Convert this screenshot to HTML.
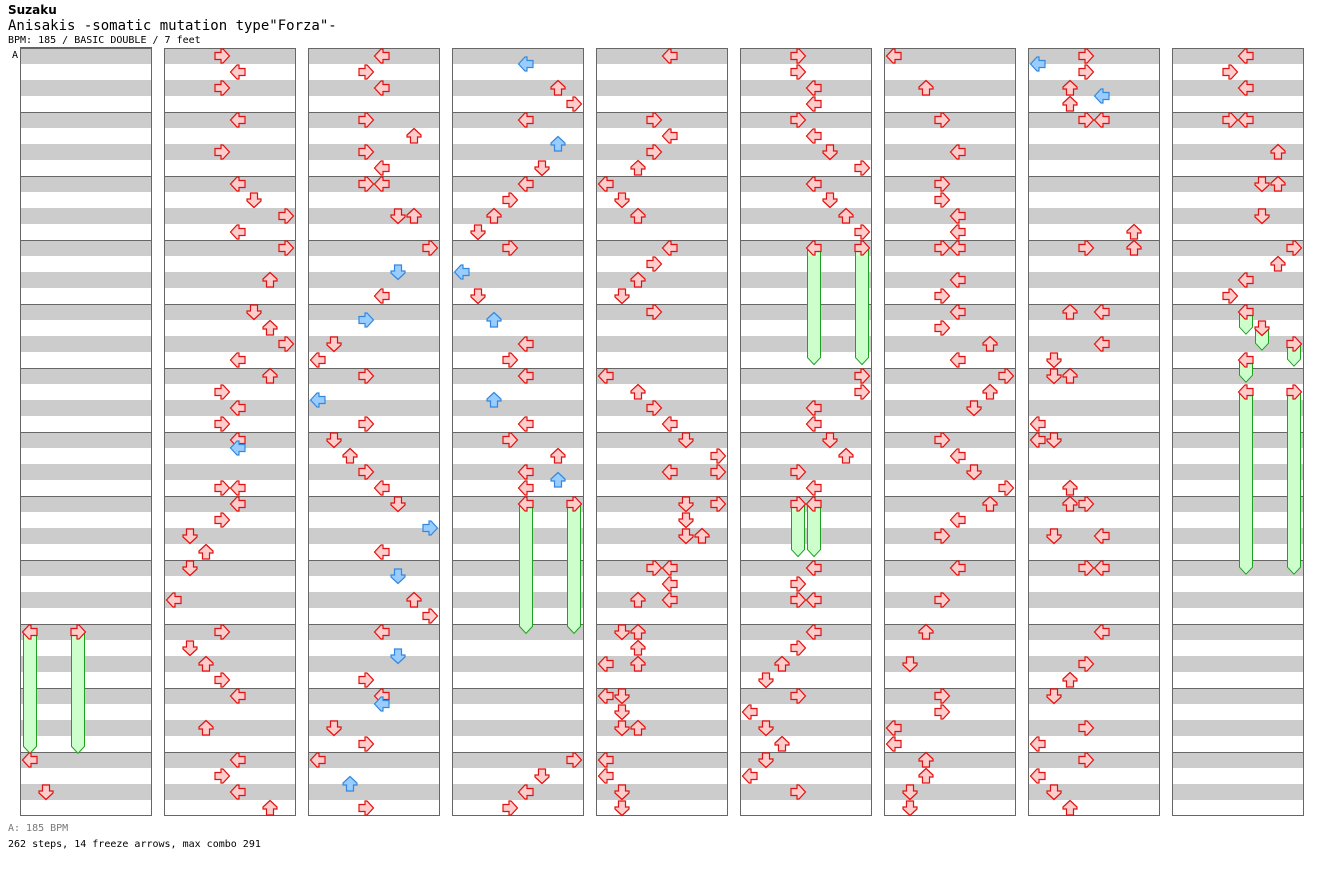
<!DOCTYPE html>
<html><head><meta charset="utf-8"><style>
body{margin:0;background:#fff;width:1328px;height:876px;overflow:hidden;font-family:"DejaVu Sans Mono","Liberation Mono",monospace;}
.t{position:absolute;left:8px;white-space:nowrap;color:#000}
</style></head><body>
<div class="t" style="top:3px;font:bold 12px 'DejaVu Sans','Liberation Sans',sans-serif">Suzaku</div>
<div class="t" style="top:18px;font-size:14px;font-family:'DejaVu Sans Mono',monospace">Anisakis -somatic mutation type"Forza"-</div>
<div class="t" style="top:35px;font-size:10px">BPM: 185 / BASIC DOUBLE / 7 feet</div>
<div class="t" style="top:823px;font-size:10px;color:#777">A: 185 BPM</div>
<div class="t" style="top:839px;font-size:10px">262 steps, 14 freeze arrows, max combo 291</div>
<svg id="s" width="1328" height="876" style="position:absolute;left:0;top:0"></svg>
<script>
var cols=[
"36:0,36:3,44:0,46:1",
"0:3,1:4,2:3,4:4,6:3,8:4,9:5,10:7,11:4,12:7,14:6,16:5,17:6,18:7,19:4,20:6,21:3,22:4,23:3,24:4,24.5:4,27:3,27:4,28:4,29:3,30:1,31:2,32:1,34:0,36:3,37:1,38:2,39:3,40:4,42:2,44:4,45:3,46:4,47:6",
"0:4,1:3,2:4,4:3,5:6,6:3,7:4,8:3,8:4,10:5,10:6,12:7,13.5:5,15:4,16.5:3,18:1,19:0,20:3,21.5:0,23:3,24:1,25:2,26:3,27:4,28:5,29.5:7,31:4,32.5:5,34:6,35:7,36:4,37.5:5,39:3,40:4,40.5:4,42:1,43:3,44:0,45.5:2,47:3",
"0.5:4,2:6,3:7,4:4,5.5:6,7:5,8:4,9:3,10:2,11:1,12:3,13.5:0,15:1,16.5:2,18:4,19:3,20:4,21.5:2,23:4,24:3,25:6,26:4,26.5:6,27:4,28:4,28:7,44:7,45:5,46:4,47:3",
"0:4,4:3,5:4,6:3,7:2,8:0,9:1,10:2,12:4,13:3,14:2,15:1,16:3,20:0,21:2,22:3,23:4,24:5,25:7,26:4,26:7,28:5,28:7,29:5,30:5,30:6,32:3,32:4,33:4,34:2,34:4,36:1,36:2,37:2,38:0,38:2,40:0,40:1,41:1,42:1,42:2,44:0,45:0,46:1,47:1",
"0:3,1:3,2:4,3:4,4:3,5:4,6:5,7:7,8:4,9:5,10:6,11:7,12:4,12:7,20:7,21:7,22:4,23:4,24:5,25:6,26:3,27:4,28:3,28:4,32:4,33:3,34:3,34:4,36:4,37:3,38:2,39:1,40:3,41:0,42:1,43:2,44:1,45:0,46:3",
"0:0,2:2,4:3,6:4,8:3,9:3,10:4,11:4,12:3,12:4,14:4,15:3,16:4,17:3,18:6,19:4,20:7,21:6,22:5,24:3,25:4,26:5,27:7,28:6,29:4,30:3,32:4,34:3,36:2,38:1,40:3,41:3,42:0,43:0,44:2,45:2,46:1,47:1",
"0:3,0.5:0,1:3,2:2,2.5:4,3:2,4:3,4:4,11:6,12:3,12:6,16:2,16:4,18:4,19:1,20:1,20:2,23:0,24:0,24:1,27:2,28:2,28:3,30:1,30:4,32:3,32:4,36:4,38:3,39:2,40:1,42:3,43:0,44:3,45:0,46:1,47:2",
"0:4,1:3,2:4,4:3,4:4,6:6,8:5,8:6,10:5,12:7,13:6,14:4,15:3,16:4,17:5,18:7,19:4,21:4,21:7"];
var freezes=[[0,36,0,43.4],[0,36,3,43.4],[3,28,4,35.9],[3,28,7,35.9],[5,12,4,19.1],[5,12,7,19.1],[5,28,3,31.1],[5,28,4,31.1],[8,16,4,17.2],[8,17,5,18.2],[8,18,7,19.2],[8,19,4,20.2],[8,21,4,32.2],[8,21,7,32.2]];
var h='',X0=20,Y0=48;
for(var c=0;c<9;c++){var x=X0+144*c;
for(var r=0;r<48;r+=2)h+='<rect x="'+x+'" y="'+(Y0+16*r)+'" width="132" height="16" fill="#cccccc"/>';
for(var m=1;m<12;m++)h+='<line x1="'+x+'" x2="'+(x+132)+'" y1="'+(Y0+64*m+.5)+'" y2="'+(Y0+64*m+.5)+'" stroke="#666"/>';
h+='<rect x="'+(x+.5)+'" y="'+(Y0+.5)+'" width="131" height="767" fill="none" stroke="#666"/>';}
h+='<line x1="20" x2="152" y1="47.5" y2="47.5" stroke="#1a6fd6"/><text x="12" y="58" font-size="10" font-family="DejaVu Sans Mono,monospace">A</text>';
freezes.forEach(function(f){var cx=X0+144*f[0]+10+16*f[2],y1=Y0+8+16*f[1],y2=Y0+8+16*f[3];
h+='<path d="M'+(cx-6.5)+' '+y1+'V'+(y2-4)+'L'+cx+' '+(y2+3)+'L'+(cx+6.5)+' '+(y2-4)+'V'+y1+'Z" fill="#ccffcc" stroke="#22a022"/>';});
var P='M-7.5,0 L-1,-7 L1,-7 L1,-3.5 L7,-3.5 L7,3.5 L1,3.5 L1,7 L-1,7 Z',rot=[0,-90,90,180];
cols.forEach(function(s,c){s.split(',').forEach(function(e){var p=e.split(':'),k=+p[0],l=+p[1];
var cx=X0+144*c+10+16*l,cy=Y0+8+16*k,blue=(k%1)!=0;
h+='<path d="'+P+'" transform="translate('+cx+','+cy+') rotate('+rot[l%4]+')" fill="'+(blue?'#99ccff':'#ffcccc')+'" stroke="'+(blue?'#3388dd':'#e01010')+'" stroke-width="1.2"/>';});});
document.getElementById('s').innerHTML=h;
</script>
</body></html>
